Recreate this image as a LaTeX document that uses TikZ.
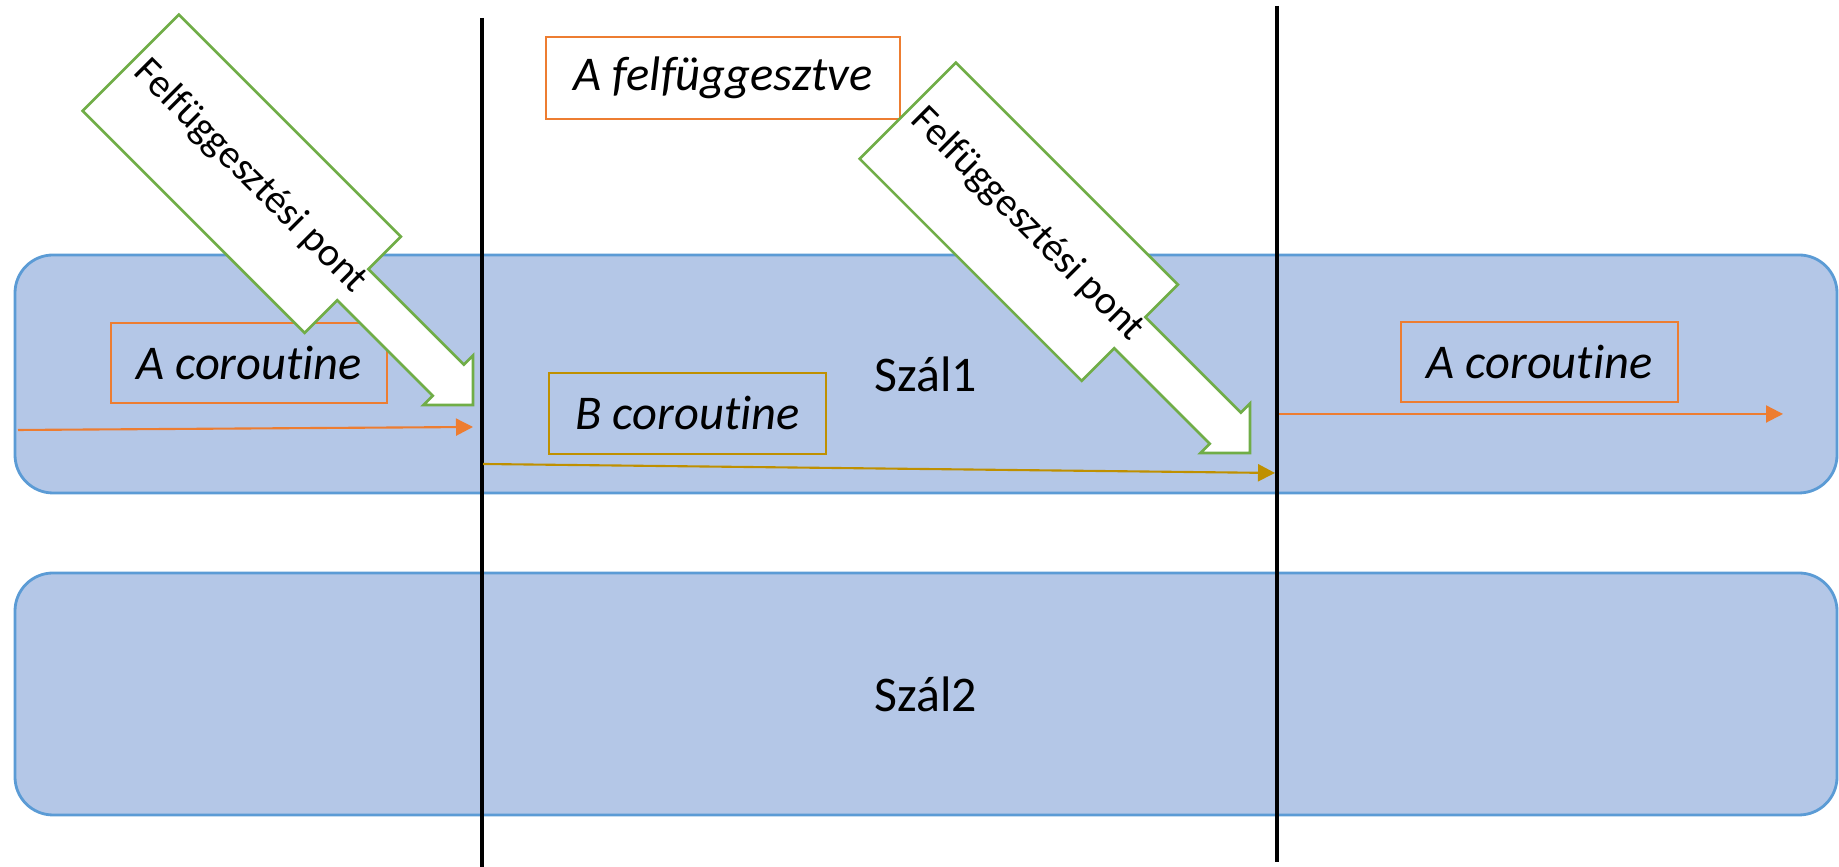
\documentclass[tikz,border=0pt]{standalone}
\usepackage{fontspec}
\setmainfont[Ligatures=NoCommon, RawFeature={-liga;-clig;-calt}]{Carlito}
\usetikzlibrary{arrows.meta, positioning}

\definecolor{kek}{HTML}{B4C7E7}
\definecolor{kekvonal}{HTML}{5B9BD5}
\definecolor{narancs}{HTML}{ED7D31}
\definecolor{zold}{HTML}{70AD47}
\definecolor{arany}{HTML}{BF9000}

\begin{document}
\begin{tikzpicture}[x=1cm, y=1cm,
    szal/.style={draw=kekvonal, line width=0.8pt, fill=kek, rounded corners=0.38cm,
        minimum width=18.22cm, font=\fontsize{14.2}{16}\selectfont},
    doboz/.style={draw=narancs, line width=0.6pt, inner sep=0pt,
        font=\fontsize{13.8}{16}\selectfont\itshape},
    vonal/.style={line width=1.1pt, black},
    nyil/.style={line width=0.6pt, -{Triangle[length=0.17cm, width=0.17cm]}},
    blokk/.style={draw=zold, line width=0.75pt, fill=white},
    felirat/.style={rotate=-45, inner sep=0pt, font=\fontsize{11.4}{13}\selectfont}]
                                            \useasboundingbox (0, 0) rectangle (18.39, 8.67);
                                            \node[szal, minimum height=2.38cm] (sz1) at (9.26, 4.93) {Szál1};
                                            \node[szal, minimum height=2.42cm] (sz2) at (9.26, 1.73) {Szál2};
                                            \node[doboz, minimum width=3.54cm, minimum height=0.82cm, fill=white] (felf) at (7.23, 7.89) {A felfüggesztve};
                                            \node[doboz, minimum width=2.76cm, minimum height=0.80cm] (ca1) at (2.49, 5.04) {A coroutine};
                                            \node[doboz, minimum width=2.77cm, minimum height=0.81cm, draw=arany] (cb) at (6.875, 4.535) {B coroutine};
                                            \node[doboz, minimum width=2.77cm, minimum height=0.80cm] (ca2) at (15.395, 5.05) {A coroutine};
                                            \coordinate (v1t) at (4.82, 8.49);
                                            \coordinate (v1b) at (4.82, 0);
                                            \coordinate (v2t) at (12.77, 8.61);
                                            \coordinate (v2b) at (12.77, 0.05);
                                            \coordinate (a1s) at (0.18, 4.37);
                                            \coordinate (a1e) at (4.73, 4.40);
                                            \coordinate (bs) at (4.83, 4.03);
                                            \coordinate (be) at (12.75, 3.94);
                                            \coordinate (a2s) at (12.79, 4.53);
                                            \coordinate (a2e) at (17.83, 4.53);
                                            \draw[vonal] (v1t) -- (v1b);
                                            \draw[vonal] (v2t) -- (v2b);
                                            \draw[nyil, narancs] (a1s) -- (a1e);
                                            \draw[nyil, arany] (bs) -- (be);
                                            \draw[nyil, narancs] (a2s) -- (a2e);
                                            \begin{scope}[shift={(4.73, 4.62)}, rotate=-45]
                                                \draw[blokk] (-4.84, 0.68) -- (-1.70, 0.68) -- (-1.70, 0.22) -- (-0.35, 0.22) -- (-0.35, 0.35) -- (0, 0)
                                                    -- (-0.35, -0.35) -- (-0.35, -0.22) -- (-1.70, -0.22) -- (-1.70, -0.68) -- (-4.84, -0.68) -- cycle;
                                                \node[felirat] (fp1) at (-3.19, 0.04) {Felfüggesztési pont};
                                            \end{scope}
                                            \begin{scope}[shift={(12.50, 4.14)}, rotate=-45]
                                                \draw[blokk] (-4.84, 0.68) -- (-1.70, 0.68) -- (-1.70, 0.22) -- (-0.35, 0.22) -- (-0.35, 0.35) -- (0, 0)
                                                    -- (-0.35, -0.35) -- (-0.35, -0.22) -- (-1.70, -0.22) -- (-1.70, -0.68) -- (-4.84, -0.68) -- cycle;
                                                \node[felirat] (fp2) at (-3.19, 0.04) {Felfüggesztési pont};
                                            \end{scope}
                                        \end{tikzpicture}
\end{document}
